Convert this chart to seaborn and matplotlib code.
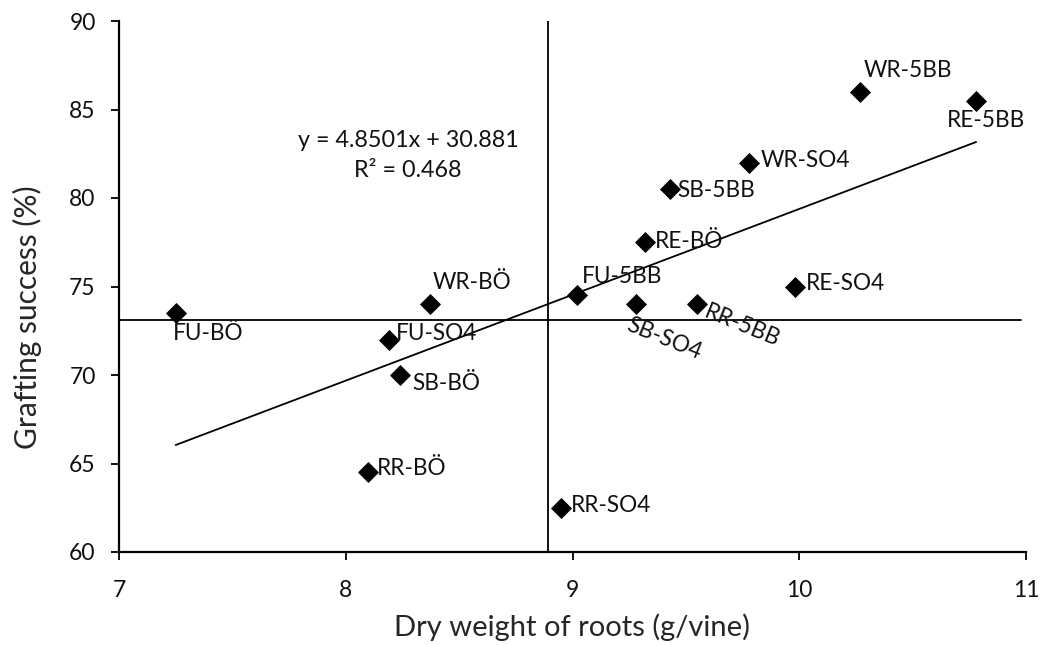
import matplotlib
matplotlib.use("Agg")
import matplotlib.pyplot as plt
import seaborn as sns
import pandas as pd
import numpy as np

# ---- data ----
labels = ["FU-BÖ", "FU-SO4", "WR-BÖ", "SB-BÖ", "RR-BÖ", "RR-SO4", "FU-5BB", "SB-SO4",
          "RE-BÖ", "SB-5BB", "RR-5BB", "WR-SO4", "RE-SO4", "WR-5BB", "RE-5BB"]
dry_weight = [7.25, 8.19, 8.37, 8.24, 8.10, 8.95, 9.02, 9.28,
              9.32, 9.43, 9.55, 9.78, 9.98, 10.27, 10.78]
grafting = [73.5, 72.0, 74.0, 70.0, 64.5, 62.5, 74.5, 74.0,
            77.5, 80.5, 74.0, 82.0, 75.0, 86.0, 85.5]
slope = 4.8501
intercept = 30.881
r_squared = 0.468
x_ref = 8.89
y_ref = 73.13
x_ticks = [7, 8, 9, 10, 11]
y_ticks = [60, 65, 70, 75, 80, 85, 90]

df = pd.DataFrame({"label": labels, "x": dry_weight, "y": grafting})

sns.set_theme(style="white")
plt.rcParams["font.family"] = ["Lato", "DejaVu Sans"]

fig = plt.figure(figsize=(10.42, 6.45), dpi=100)
ax = fig.add_axes([119 / 1042, 1 - 552 / 645, (1026 - 119) / 1042, (552 - 21) / 645])

# reference lines
ax.axvline(x_ref, color="black", lw=1.3, zorder=1)
ax.axhline(y_ref, xmax=0.995, color="black", lw=1.3, zorder=1)

# trend line
xmin, xmax = min(dry_weight), max(dry_weight)
ax.plot([xmin, xmax], [slope * xmin + intercept, slope * xmax + intercept],
        color="black", lw=1.3, zorder=2)

sns.scatterplot(data=df, x="x", y="y", marker="D", color="black", s=115,
                edgecolor="black", linewidth=0, ax=ax, zorder=3)

# label offsets (pixels): dx, dy, ha, rotation
offsets = {
    "FU-BÖ": (-3, -20, "left", 0),
    "FU-SO4": (7, 6, "left", 0),
    "WR-BÖ": (3, 22, "left", 0),
    "SB-BÖ": (12, -8, "left", 0),
    "RR-BÖ": (8, 4, "left", 0),
    "RR-SO4": (10, 2, "left", 0),
    "FU-5BB": (5, 19, "left", 0),
    "SB-SO4": (28, -35, "center", -22),
    "RE-BÖ": (10, 1, "left", 0),
    "SB-5BB": (7, -1, "left", 0),
    "RR-5BB": (45, -22, "center", -22),
    "WR-SO4": (11, 2, "left", 0),
    "RE-SO4": (11, 3, "left", 0),
    "WR-5BB": (3, 21, "left", 0),
    "RE-5BB": (10, -20, "center", 0),
}
for lab, xv, yv in zip(labels, dry_weight, grafting):
    dx, dy, ha, rot = offsets[lab]
    ax.annotate(lab, (xv, yv), xytext=(dx, dy), textcoords="offset pixels",
                ha=ha, va="center", rotation=rot, rotation_mode="anchor",
                fontsize=16.3, color="#111111", zorder=4)

ax.text(8.274, 82.4, f"y = {slope}x + {intercept}\nR² = {r_squared}",
        ha="center", va="center", fontsize=16.8, linespacing=1.55, color="#111111")

ax.set_xlim(7, 11)
ax.set_ylim(60, 90)
ax.set_xticks(x_ticks)
ax.set_yticks(y_ticks)
ax.set_xticklabels([str(t) for t in x_ticks])
ax.set_yticklabels([str(t) for t in y_ticks])
ax.set_xlabel("Dry weight of roots (g/vine)", fontsize=21, va="center")
ax.set_ylabel("Grafting success (%)", fontsize=21.5, va="center")
ax.xaxis.set_label_coords(0.5, (552 - 627) / 531)
ax.yaxis.set_label_coords((27 - 119) / 907, (552 - 317) / 531)

sns.despine(ax=ax)
for side in ["left", "bottom"]:
    ax.spines[side].set_color("black")
    ax.spines[side].set_linewidth(1.6)
ax.tick_params(axis="both", which="major", direction="out", length=6, width=1.3,
               color="black", labelsize=16.5, labelcolor="#111111",
               bottom=True, left=True)
ax.tick_params(axis="x", pad=14)
ax.tick_params(axis="y", pad=10.8)
ax.grid(False)

fig.savefig("out.png", dpi=100)
